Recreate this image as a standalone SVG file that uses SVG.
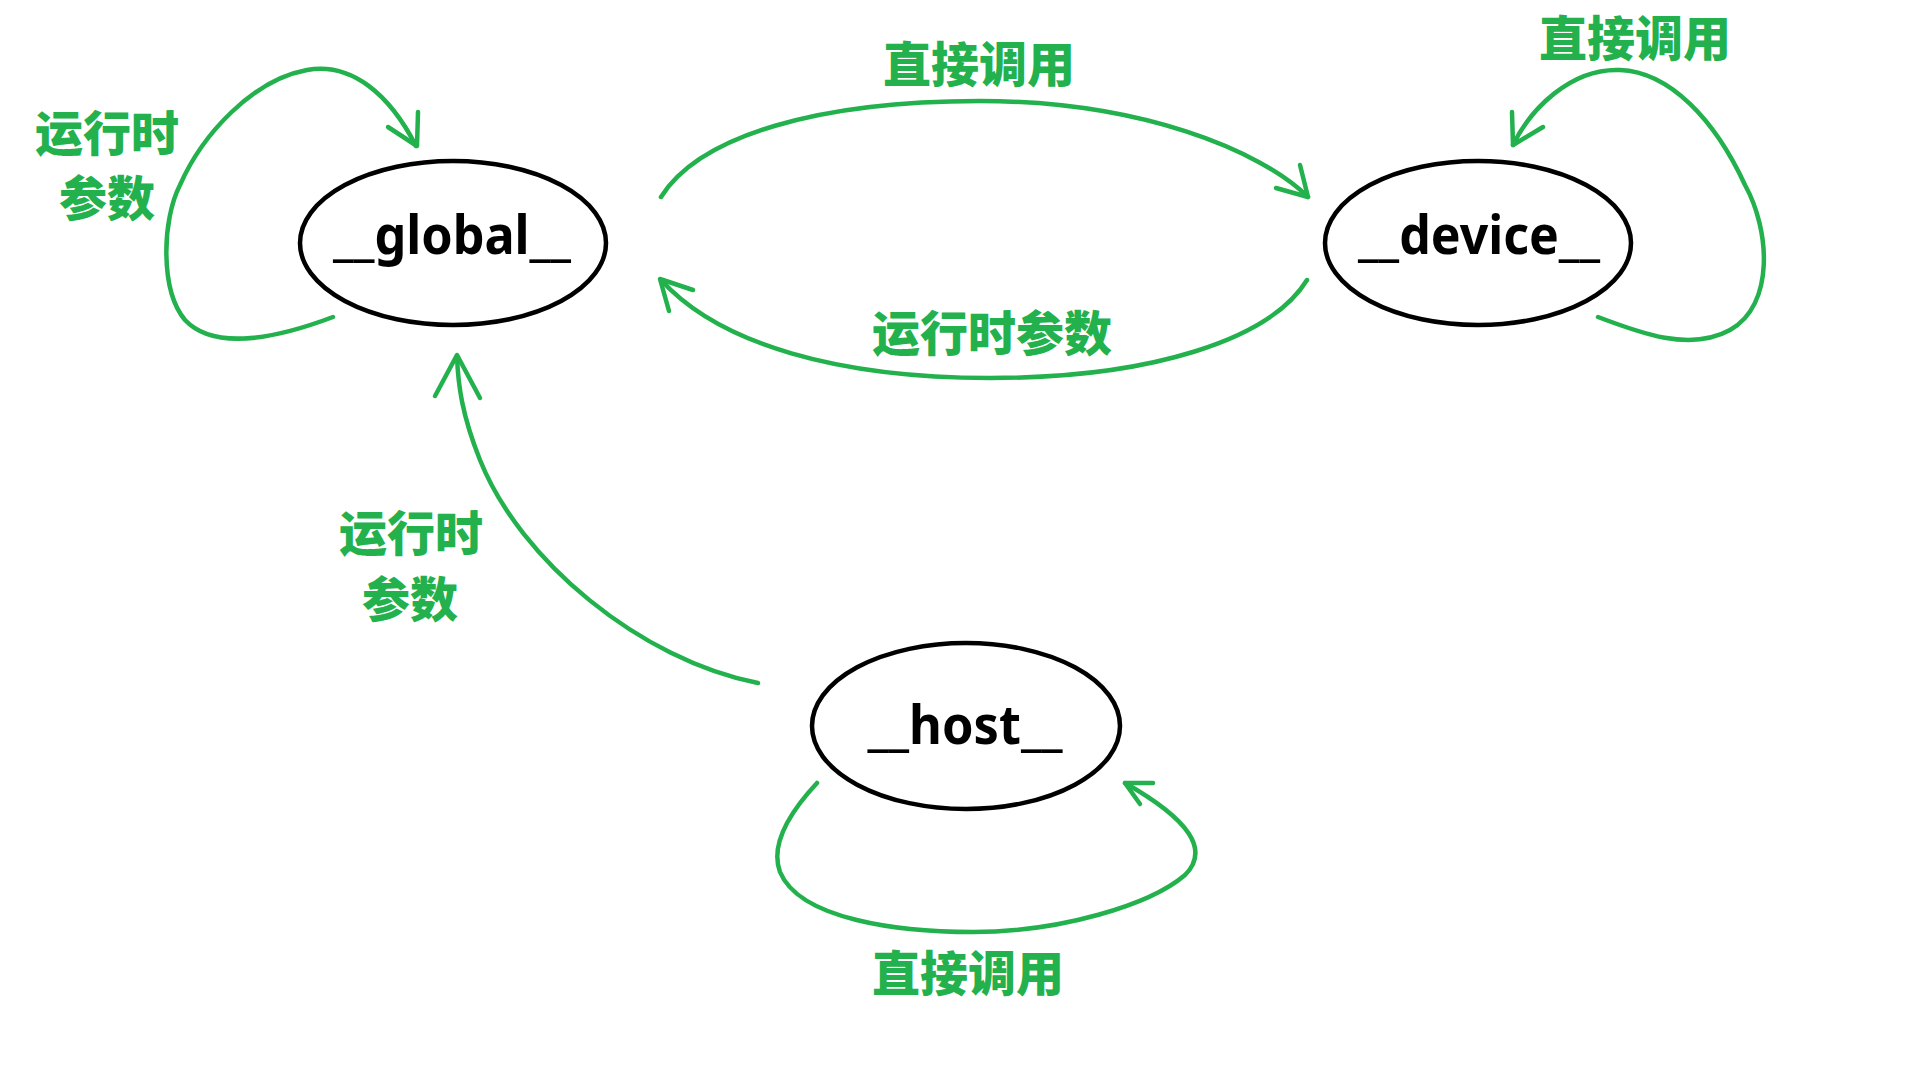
<svg xmlns="http://www.w3.org/2000/svg" width="1920" height="1080" viewBox="0 0 1920 1080">
<style>
.node{fill:#fff;stroke:#000;stroke-width:4.5}
.nlabel{font-family:"Noto Sans","Open Sans","Liberation Sans",sans-serif;font-weight:700;font-size:54px;fill:#000;text-anchor:middle}
.edge{fill:none;stroke:#22b14c;stroke-width:4.5;stroke-linecap:round;stroke-linejoin:round}
.elabel{font-family:"Noto Sans CJK SC","Noto Sans",sans-serif;font-weight:900;font-size:48px;fill:#22b14c;text-anchor:middle}
</style>
<rect width="1920" height="1080" fill="#fff"/>
<g id="connectors">
  <g id="global-self">
    <path class="edge" d="M333 317 C280 337 215 352 185 320 C160 290 162 220 180 185 C202 135 252 80 307 70 C352 62 390 95 416 146"/>
    <polyline class="edge" points="388,127 417,146 418,112"/>
    <text class="elabel" x="107" y="151">运行时</text>
    <text class="elabel" x="107" y="216">参数</text>
  </g>
  <g id="global-to-device">
    <path class="edge" d="M661 197 C700 135 820 101 980 101 C1140 101 1260 150 1308 197"/>
    <polyline class="edge" points="1276,188 1308,197 1300,165"/>
    <text class="elabel" x="979" y="82">直接调用</text>
  </g>
  <g id="device-to-global">
    <path class="edge" d="M1307 280 C1270 340 1150 378 990 378 C840 378 720 345 661 280"/>
    <polyline class="edge" points="693,290 660,279 669,311"/>
    <text class="elabel" x="992" y="351">运行时参数</text>
  </g>
  <g id="device-self">
    <path class="edge" d="M1598 317 C1640 333 1690 352 1730 330 C1775 305 1770 230 1745 185 C1715 120 1670 72 1620 70 C1570 68 1530 110 1513 145"/>
    <polyline class="edge" points="1512,112 1513,145 1543,127"/>
    <text class="elabel" x="1635" y="56">直接调用</text>
  </g>
  <g id="host-to-global">
    <path class="edge" d="M758 683 C640 660 520 560 480 460 C462 415 458 385 457 356"/>
    <polyline class="edge" points="435,396 457,355 480,398"/>
    <text class="elabel" x="411" y="551">运行时</text>
    <text class="elabel" x="410" y="617">参数</text>
  </g>
  <g id="host-self">
    <path class="edge" d="M817 783 C790 812 770 845 780 872 C800 920 900 932 973 932 C1060 932 1150 905 1185 875 C1210 850 1190 820 1125 783"/>
    <polyline class="edge" points="1153,783 1125,783 1140,804"/>
    <text class="elabel" x="968" y="991">直接调用</text>
  </g>
</g>
<g id="node-global">
  <ellipse class="node" cx="453" cy="243" rx="153" ry="82"/>
  <text class="nlabel" x="452" y="254" textLength="238" lengthAdjust="spacingAndGlyphs">__global__</text>
</g>
<g id="node-device">
  <ellipse class="node" cx="1478" cy="243" rx="153" ry="82"/>
  <text class="nlabel" x="1479" y="254" textLength="242" lengthAdjust="spacingAndGlyphs">__device__</text>
</g>
<g id="node-host">
  <ellipse class="node" cx="966" cy="726" rx="154" ry="83"/>
  <text class="nlabel" x="965" y="744" textLength="195" lengthAdjust="spacingAndGlyphs">__host__</text>
</g>
</svg>
